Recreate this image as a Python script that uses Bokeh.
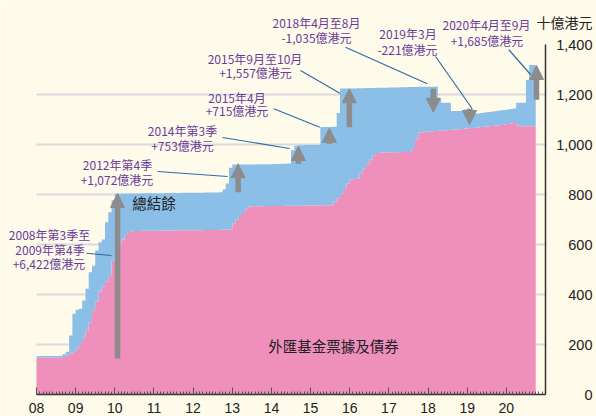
import numpy as np
from bokeh.plotting import figure
from bokeh.models import (ColumnDataSource, FixedTicker, Range1d, Label, LabelSet,
                          Arrow, NormalHead, LinearAxis)
from bokeh.core.properties import value
from bokeh.embed import file_html
from bokeh.resources import INLINE

# ---------------- data (HK$ billion, end of month, Jan 2008 - Sep 2020) ----------------
start_year = 2008
efbn_2008 = [148, 148, 148, 148, 148, 148, 148, 149, 150, 155, 163, 170]
efbn_2009 = [183, 202, 228, 255, 288, 337, 372, 412, 432, 452, 477, 535]
efbn_2010 = [582, 604, 620, 638, 650, 653, 654, 654, 655, 655, 655, 655]
efbn_2011 = [655, 655, 656, 656, 656, 656, 656, 657, 657, 657, 657, 657]
efbn_2012 = [657, 657, 657, 658, 658, 658, 658, 658, 659, 659, 659, 660]
efbn_2013 = [685, 699, 714, 730, 743, 752, 753, 753, 753, 753, 754, 754]
efbn_2014 = [754, 754, 754, 754, 755, 755, 755, 755, 755, 755, 756, 756]
efbn_2015 = [756, 756, 756, 757, 757, 757, 757, 772, 784, 799, 822, 844]
efbn_2016 = [859, 862, 864, 883, 903, 919, 939, 957, 966, 967, 968, 968]
efbn_2017 = [969, 969, 969, 970, 970, 970, 970, 986, 1020, 1047, 1049, 1051]
efbn_2018 = [1052, 1053, 1054, 1055, 1056, 1057, 1058, 1059, 1060, 1061, 1062, 1064]
efbn_2019 = [1065, 1066, 1067, 1068, 1070, 1071, 1072, 1074, 1075, 1076, 1078, 1080]
efbn_2020 = [1082, 1085, 1090, 1077, 1073, 1073, 1073, 1073, 1073]

total_2008 = [154, 154, 154, 154, 154, 154, 154, 155, 161, 171, 236, 323]
total_2009 = [339, 343, 376, 423, 489, 515, 576, 609, 620, 689, 729, 777]
total_2010 = [803, 803, 803, 804, 804, 804, 804, 804, 805, 805, 805, 805]
total_2011 = [805, 805, 805, 806, 806, 806, 806, 806, 807, 807, 807, 807]
total_2012 = [807, 807, 807, 808, 808, 808, 808, 808, 809, 820, 844, 907]
total_2013 = [920, 920, 920, 920, 920, 920, 920, 921, 921, 921, 921, 921]
total_2014 = [922, 922, 922, 923, 923, 924, 977, 995, 997, 997, 998, 998]
total_2015 = [998, 998, 998, 1070, 1070, 1070, 1071, 1071, 1126, 1224, 1224, 1224]
total_2016 = [1224, 1224, 1225, 1225, 1225, 1226, 1226, 1226, 1227, 1227, 1227, 1227]
total_2017 = [1228, 1228, 1228, 1229, 1229, 1229, 1230, 1230, 1230, 1231, 1231, 1231]
total_2018 = [1231, 1231, 1232, 1184, 1167, 1167, 1167, 1134, 1134, 1134, 1134, 1140]
total_2019 = [1140, 1140, 1124, 1124, 1126, 1128, 1130, 1131, 1133, 1135, 1137, 1138]
total_2020 = [1140, 1142, 1144, 1167, 1167, 1167, 1258, 1318, 1318]

year_ticks = list(range(2008, 2022))
year_labels = ["08", "09", "10", "11", "12", "13", "14", "15", "16", "17", "18", "19", "20", ""]
y_ticks = [0, 200, 400, 600, 800, 1000, 1200, 1400]
y_labels = ["0", "200", "400", "600", "800", "1,000", "1,200", "1,400"]
grid_ticks = [200, 400, 600, 800, 1000, 1200]
unit_label = "十億港元"
series_labels = ["外匯基金票據及債券", "總結餘"]

# annotations: event texts, leader lines, arrows (x = year, from/to in HK$ bn)
ann_lines = ["2008年第3季至", "2009年第4季", "+6,422億港元",
             "2012年第4季", "+1,072億港元",
             "2014年第3季", "+753億港元",
             "2015年4月", "+715億港元",
             "2015年9月至10月", "+1,557億港元",
             "2018年4月至8月", "-1,035億港元",
             "2019年3月", "-221億港元",
             "2020年4月至9月", "+1,685億港元"]
ann_x = [2008.332, 2008.345, 2008.319,
         2010.069, 2010.056,
         2011.729, 2011.729,
         2013.121, 2013.121,
         2013.581, 2013.593,
         2015.151, 2015.151,
         2017.488, 2017.475,
         2019.493, 2019.506]
ann_y = [640, 580, 524,
         920, 860,
         1056, 996,
         1189, 1136,
         1345, 1289,
         1489, 1429,
         1443, 1379,
         1479, 1416]
lead_x0 = [2009.277, 2011.091, 2012.751, 2014.061, 2014.743, 2015.893, 2018.192, 2020.064]
lead_y0 = [565, 892, 1028, 1143, 1296, 1389, 1352, 1379]
lead_x1 = [2009.916, 2012.879, 2014.462, 2015.236, 2015.747, 2017.98, 2019.129, 2020.618]
lead_y1 = [556, 872, 984, 1069, 1205, 1243, 1143, 1280]
arrow_x = [2010.07, 2013.15, 2014.69, 2015.48, 2015.99, 2018.135, 2019.06, 2020.77]
arrow_from = [144, 809, 923, 1003, 1069, 1223, 1143, 1179]
arrow_to = [804, 923, 992, 1065, 1223, 1129, 1080, 1316]

# ---------------- build step areas ----------------
efbn = (efbn_2008 + efbn_2009 + efbn_2010 + efbn_2011 + efbn_2012 + efbn_2013 + efbn_2014
        + efbn_2015 + efbn_2016 + efbn_2017 + efbn_2018 + efbn_2019 + efbn_2020)
total = (total_2008 + total_2009 + total_2010 + total_2011 + total_2012 + total_2013 + total_2014
         + total_2015 + total_2016 + total_2017 + total_2018 + total_2019 + total_2020)
n = len(efbn)
m0 = start_year + np.arange(n) / 12.0
xs = np.empty(2 * n)
xs[0::2] = m0
xs[1::2] = m0 + 1.0 / 12.0
pink_y = np.repeat(np.array(efbn, dtype=float), 2)
tot_y = np.repeat(np.array(total, dtype=float), 2)
src = ColumnDataSource(dict(x=xs, pink=pink_y, tot=tot_y, zero=np.zeros(2 * n)))

BG = "#fffbea"
PINK = "#ef8fbb"
BLUE = "#8cbfe7"
GRAY = "#8c8c8c"
PURPLE = "#6a3b9c"
LEADER = "#336aa8"
CJK = "Noto Sans CJK TC"
NUM = "Liberation Sans"

# frame fills the canvas; 2008 -> 36px, 2021 -> 545px, 0 -> 394px, 1400 -> 44px
W, H = 596, 416
px_per_year = (545 - 36) / 13.0
px_per_unit = (394 - 44) / 1400.0
x0 = year_ticks[0] - 36 / px_per_year
x1 = year_ticks[-1] + (W - 545) / px_per_year
y0 = -(H - 394) / px_per_unit
y1 = 394 / px_per_unit

p = figure(width=W, height=H, output_backend="svg", toolbar_location=None,
           x_range=Range1d(x0, x1), y_range=Range1d(y0, y1),
           y_axis_location=None, min_border=0)
p.background_fill_color = BG
p.border_fill_color = BG
p.outline_line_color = None
p.grid.visible = False

# grid lines between the two axes
p.segment(x0=[year_ticks[0]] * len(grid_ticks), x1=[year_ticks[-1]] * len(grid_ticks),
          y0=grid_ticks, y1=grid_ticks, line_color="#dadada", line_width=2)

p.varea(x="x", y1="zero", y2="pink", source=src, fill_color=PINK)
p.varea(x="x", y1="pink", y2="tot", source=src, fill_color=BLUE)

# x axis at y = 0
xa = p.xaxis[0]
xa.fixed_location = 0
xa.bounds = (year_ticks[0], year_ticks[-1])
xa.ticker = FixedTicker(ticks=year_ticks,
                        minor_ticks=[start_year + k / 12.0 for k in range(12 * 13 + 1)])
xa.major_label_overrides = {t: l for t, l in zip(year_ticks, year_labels)}
xa.axis_line_color = "#333333"
xa.axis_line_width = 1.5
xa.major_tick_in = 7
xa.major_tick_out = 0
xa.minor_tick_in = 3
xa.minor_tick_out = 0
xa.major_tick_line_color = "#555555"
xa.minor_tick_line_color = "#555555"
xa.major_label_standoff = 8
xa.major_label_text_font = NUM
xa.major_label_text_font_size = "14px"
xa.major_label_text_color = "#222222"

# right y axis (line only) at x = 2021
ya = LinearAxis(fixed_location=year_ticks[-1], ticker=FixedTicker(ticks=[]),
                bounds=(y_ticks[0], y_ticks[-1]), axis_line_color="#333333",
                axis_line_width=1.5, major_tick_in=0, major_tick_out=0,
                minor_tick_in=0, minor_tick_out=0)
p.add_layout(ya, "right")

label_x = year_ticks[-1] + (592 - 545) / px_per_year
for v, t in zip(y_ticks, y_labels):
    p.add_layout(Label(x=label_x, y=v, text=t, text_align="right",
                       text_baseline="middle", text_font=NUM,
                       text_font_size="14.5px", text_color="#222222"))
p.add_layout(Label(x=label_x, y=1492, text=unit_label,
                   text_align="right", text_baseline="middle", text_font=CJK,
                   text_font_size="14px", text_color="#222222"))

# series labels
p.add_layout(Label(x=2015.585, y=196, text=series_labels[0], text_align="center",
                   text_baseline="middle", text_font=CJK, text_font_size="14.5px",
                   text_color="#222222"))
p.add_layout(Label(x=2011.0, y=769, text=series_labels[1], text_align="center",
                   text_baseline="middle", text_font=CJK, text_font_size="14.5px",
                   text_color="#222222"))

# leader lines
p.segment(x0=lead_x0, y0=lead_y0, x1=lead_x1, y1=lead_y1, line_color=LEADER, line_width=1.2)

# arrows
asrc = ColumnDataSource(dict(x=arrow_x, y0=arrow_from, y1=arrow_to))
p.add_layout(Arrow(end=NormalHead(size=14, fill_color=GRAY, line_color=GRAY, line_width=1),
                   source=asrc, x_start="x", y_start="y0", x_end="x", y_end="y1",
                   line_color=GRAY, line_width=5.5))

# annotation texts
tsrc = ColumnDataSource(dict(x=ann_x, y=ann_y, text=ann_lines))
p.add_layout(LabelSet(x="x", y="y", text="text", source=tsrc, text_align="center",
                      text_baseline="middle", text_font=value(CJK), text_font_size="12px",
                      text_color=PURPLE))

open("out.html", "w").write(file_html(p, INLINE))
